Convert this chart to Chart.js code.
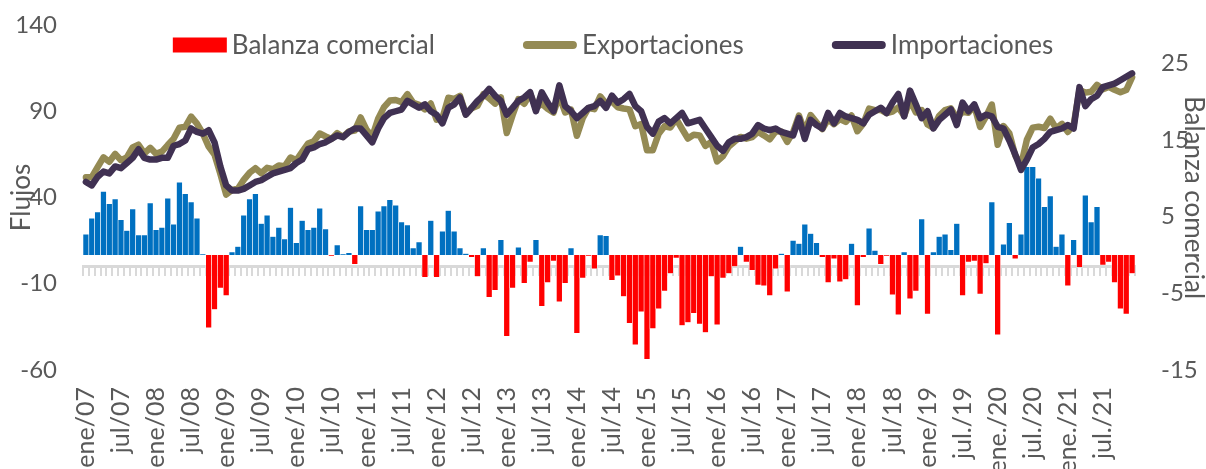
<!DOCTYPE html>
<html lang="es">
<head>
  <meta charset="UTF-8">
  <title>Balanza comercial, exportaciones e importaciones</title>
  <script src="https://cdn.jsdelivr.net/npm/chart.js@4.4.1/dist/chart.umd.min.js"></script>
  <style>
    html, body { margin: 0; padding: 0; background: #fff; overflow: hidden; }
    .chart-container { position: relative; width: 1206px; height: 469px; }
  </style>
</head>
<body>
  <div class="chart-container">
    <canvas id="balanzaChart"></canvas>
  </div>

  <script>
    // Categories: monthly, ene/07 .. dic/21
    const meses = ['ene', 'feb', 'mar', 'abr', 'may', 'jun', 'jul', 'ago', 'sep', 'oct', 'nov', 'dic'];
    const anios = [7, 8, 9, 10, 11, 12, 13, 14, 15, 16, 17, 18, 19, 20, 21];
    const labels = [];
    anios.forEach(a => meses.forEach((m, i) => {
      const yy = String(a).padStart(2, '0');
      const punto = (a > 19 || (a === 19 && i >= 6)) ? '.' : '';
      labels.push(m + punto + '/' + yy);
    }));

    // Balanza comercial (right axis), one row per year
    const balanza = [
      2.7, 4.8, 5.6, 8.3, 6.7, 7.3, 4.6, 3.2, 6.0, 2.6, 2.6, 6.8,
      3.3, 3.6, 7.4, 4.0, 9.5, 8.0, 6.9, 4.8, 0.1, -9.5, -7.1, -4.3,
      -5.3, 0.4, 1.1, 5.2, 7.3, 8.0, 4.1, 5.2, 2.4, 3.6, 2.1, 6.2,
      1.6, 4.5, 3.3, 3.6, 6.1, 3.4, -0.1, 1.3, 0.1, 0.3, -1.2, 6.4,
      3.3, 3.3, 5.7, 6.4, 7.2, 6.5, 4.3, 3.9, 0.9, 1.7, -2.9, 4.5,
      -2.9, 3.1, 5.8, 3.1, 0.9, 0.2, -0.3, -2.8, 0.9, -5.5, -4.6, 2.0,
      -10.6, -4.3, 1.0, -3.7, -0.9, 2.0, -6.7, -3.6, -0.8, -6.1, -3.7, 0.9,
      -10.2, -3.0, -0.1, -1.8, 2.6, 2.5, -3.3, -2.7, -5.4, -8.9, -11.7, -7.4,
      -13.6, -9.6, -7.0, -4.7, -2.4, -0.4, -9.2, -8.8, -7.6, -9.0, -10.1, -2.8,
      -9.1, -3.0, -2.4, -1.5, 1.1, -0.9, -2.0, -3.9, -4.0, -5.3, -1.8, 0.2,
      -4.8, 1.9, 1.5, 4.0, 2.8, 1.6, -0.3, -3.6, -0.5, -3.5, -3.2, 1.5,
      -6.6, -0.3, 3.5, 0.6, -1.2, -0.1, -5.2, -7.8, 0.4, -5.7, -4.7, 4.7,
      -7.7, 0.4, 2.4, 2.7, 0.7, 4.1, -5.3, -0.9, -0.8, -5.1, -1.1, 6.9,
      -10.4, 1.4, 4.2, -0.5, 2.7, 11.5, 11.5, 10.0, 6.3, 7.7, 1.1, 2.7,
      -4.0, 2.0, -1.6, 7.8, 4.3, 6.3, -1.3, -0.9, -3.6, -7.0, -7.7, -2.4
    ];

    // Flujos (left axis)
    const exportaciones = [
      51.7, 51.8, 57.6, 63.3, 60.7, 65.3, 61.6, 63.2, 69.0, 70.6, 65.6, 68.8,
      65.3, 66.6, 70.4, 74.0, 80.5, 81.0, 86.9, 82.8, 77.1, 69.5, 64.9, 53.7,
      41.7, 44.4, 45.1, 50.2, 54.3, 57.0, 54.1, 57.2, 56.4, 58.6, 58.1, 63.2,
      61.6, 66.5, 71.3, 72.6, 77.1, 75.4, 73.9, 77.3, 75.1, 78.3, 78.8, 86.4,
      79.3, 75.3, 85.7, 92.4, 96.2, 96.5, 95.3, 99.9, 94.9, 93.7, 91.1, 94.5,
      85.1, 86.1, 97.8, 97.1, 98.9, 88.2, 91.7, 93.2, 99.9, 97.5, 94.4, 98.0,
      77.4, 87.7, 97.0, 94.3, 100.1, 92.0, 94.3, 91.4, 89.2, 98.9, 89.3, 90.9,
      75.8, 86.0, 91.9, 91.2, 98.6, 94.5, 95.7, 92.3, 91.6, 91.1, 81.3, 82.6,
      67.4, 67.4, 77.0, 81.3, 80.6, 85.6, 79.8, 74.2, 76.4, 76.0, 69.9, 72.2,
      60.9, 64.0, 69.6, 72.5, 75.1, 74.1, 75.0, 78.1, 76.0, 73.7, 78.2, 78.2,
      72.2, 77.9, 87.5, 78.0, 87.8, 83.6, 79.7, 85.4, 82.5, 85.5, 83.8, 87.5,
      78.4, 82.7, 91.5, 90.6, 90.8, 88.9, 89.8, 92.2, 87.4, 96.3, 89.3, 90.7,
      82.3, 80.4, 87.4, 90.7, 91.7, 86.1, 89.7, 89.1, 93.2, 80.9, 86.9, 93.9,
      70.6, 81.4, 77.2, 64.5, 58.7, 73.5, 80.5, 81.0, 80.3, 85.7, 80.1, 82.7,
      78.0, 82.0, 102.4, 100.8, 101.3, 105.3, 102.7, 104.1, 102.4, 101.0, 102.3, 109.6
    ];
    const importaciones = [
      49, 47, 52, 55, 54, 58, 57, 60, 63, 68, 63, 62,
      62, 63, 63, 70, 71, 73, 80, 78, 77, 79, 72, 58,
      47, 44, 44, 45, 47, 49, 50, 52, 54, 55, 56, 57,
      60, 62, 68, 69, 71, 72, 74, 76, 75, 78, 80, 80,
      76, 72, 80, 86, 89, 90, 91, 96, 94, 92, 94, 90,
      88, 83, 92, 94, 98, 88, 92, 96, 99, 103, 99, 96,
      88, 92, 96, 98, 101, 90, 101, 95, 90, 105, 93, 90,
      86, 89, 92, 93, 96, 92, 99, 95, 97, 100, 93, 90,
      81, 77, 84, 86, 83, 86, 89, 83, 84, 85, 80, 75,
      70, 67, 72, 74, 74, 75, 77, 82, 80, 79, 80, 78,
      77, 76, 86, 74, 85, 82, 80, 89, 83, 89, 87, 86,
      85, 83, 88, 90, 92, 89, 95, 100, 87, 102, 94, 86,
      90, 80, 85, 88, 91, 82, 95, 90, 94, 86, 88, 87,
      81, 80, 73, 65, 56, 62, 69, 71, 74, 78, 79, 80,
      82, 80, 104, 93, 97, 99, 104, 105, 106, 108, 110, 112
    ];

    // Axis ticks
    const flujosTicks = [-60, -10, 40, 90, 140];
    const balanzaTicks = [-15, -5, 5, 15, 25];

    const posColor = '#0070C0';
    const negColor = '#FF0000';
    const expColor = '#948A54';
    const impColor = '#403152';
    const textColor = '#595959';
    const axisGray = 'rgba(191, 191, 191, 0.6)';

    Chart.defaults.font.family = 'Lato';
    Chart.defaults.color = textColor;

    // Legend drawn across the top of the plot, as in the original
    const topLegend = {
      id: 'topLegend',
      afterDraw(chart, args, opts) {
        const ctx = chart.ctx;
        ctx.save();
        ctx.font = opts.fontSize + 'px Lato';
        ctx.textBaseline = 'middle';
        const items = chart.data.datasets.map(ds => ({
          ds,
          width: opts.swatch + opts.textGap + ctx.measureText(ds.label).width
        }));
        const total = items.reduce((s, it) => s + it.width, 0) + opts.gap * (items.length - 1);
        let x = opts.centerX - total / 2;
        const y = opts.y;
        items.forEach(it => {
          if (it.ds.type === 'bar') {
            ctx.fillStyle = negColor;
            ctx.fillRect(x, y - opts.boxHeight / 2, opts.swatch, opts.boxHeight);
          } else {
            const r = opts.lineWidth / 2;
            ctx.strokeStyle = it.ds.borderColor;
            ctx.lineWidth = opts.lineWidth;
            ctx.lineCap = 'round';
            ctx.beginPath();
            ctx.moveTo(x + r, y);
            ctx.lineTo(x + opts.swatch - r, y);
            ctx.stroke();
          }
          ctx.fillStyle = textColor;
          ctx.fillText(it.ds.label, x + opts.swatch + opts.textGap, y + 1);
          x += it.width + opts.gap;
        });
        ctx.restore();
      }
    };

    // invisible tick marks keep the labels away from the plot without padding the top
    const hiddenTickGrid = { display: true, drawOnChartArea: false, drawTicks: true, tickLength: 23, color: 'transparent' };

    const ctx = document.getElementById('balanzaChart').getContext('2d');
    new Chart(ctx, {
      type: 'bar',
      data: {
        labels: labels,
        datasets: [
          {
            type: 'bar',
            label: 'Balanza comercial',
            data: balanza,
            yAxisID: 'y2',
            backgroundColor: balanza.map(v => v < 0 ? negColor : posColor),
            borderColor: 'rgba(255, 255, 255, 0.7)',
            borderWidth: 0.6,
            barPercentage: 1,
            categoryPercentage: 1,
            order: 3
          },
          {
            type: 'line',
            label: 'Exportaciones',
            data: exportaciones,
            yAxisID: 'y',
            borderColor: expColor,
            backgroundColor: expColor,
            borderWidth: 6.5,
            borderJoinStyle: 'round',
            borderCapStyle: 'round',
            pointRadius: 0,
            tension: 0,
            order: 2
          },
          {
            type: 'line',
            label: 'Importaciones',
            data: importaciones,
            yAxisID: 'y',
            borderColor: impColor,
            backgroundColor: impColor,
            borderWidth: 6.5,
            borderJoinStyle: 'round',
            borderCapStyle: 'round',
            pointRadius: 0,
            tension: 0,
            order: 1
          }
        ]
      },
      options: {
        responsive: true,
        maintainAspectRatio: false,
        animation: false,
        layout: { padding: { top: 25, left: 0, right: 0, bottom: 0 } },
        plugins: {
          legend: { display: false },
          tooltip: { enabled: false },
          topLegend: {
            fontSize: 26,
            swatch: 54,
            textGap: 5,
            gap: 88,
            boxHeight: 15,
            lineWidth: 8,
            centerX: 613,
            y: 45
          }
        },
        scales: {
          x: {
            type: 'category',
            position: 'bottom',
            offset: true,
            grid: { display: false, drawTicks: false },
            border: { display: false },
            ticks: {
              autoSkip: false,
              minRotation: 90,
              maxRotation: 90,
              padding: 17,
              color: textColor,
              font: { size: 25 },
              callback: (v, i) => (i % 6 === 0 ? labels[i] : '')
            },
            afterFit(scale) { scale.height = 99; }
          },
          xAxis0: {
            type: 'category',
            axis: 'x',
            position: { y: 0 },
            offset: true,
            z: 1,
            grid: {
              display: true,
              offset: true,
              drawOnChartArea: false,
              drawTicks: true,
              tickLength: 8,
              lineWidth: 2,
              color: axisGray
            },
            border: { display: true, color: axisGray, width: 3 },
            ticks: { display: false }
          },
          y: {
            position: 'left',
            min: -60,
            max: 140,
            grid: hiddenTickGrid,
            border: { display: false },
            ticks: { padding: 3, color: textColor, font: { size: 24 } },
            afterBuildTicks(scale) { scale.ticks = flujosTicks.map(v => ({ value: v })); },
            title: {
              display: true,
              text: 'Flujos',
              color: textColor,
              font: { size: 26, lineHeight: 1 },
              padding: { top: 9, bottom: 0 }
            },
            afterFit(scale) { scale.width = 83; }
          },
          y2: {
            position: 'right',
            min: -15,
            max: 30,
            grid: hiddenTickGrid,
            border: { display: false },
            ticks: { padding: 3, color: textColor, font: { size: 24 } },
            afterBuildTicks(scale) { scale.ticks = balanzaTicks.map(v => ({ value: v })); },
            title: {
              display: true,
              text: 'Balanza comercial',
              color: textColor,
              font: { size: 26, lineHeight: 1 },
              padding: { top: 0, bottom: 0 }
            },
            afterFit(scale) { scale.width = 71; }
          }
        }
      },
      plugins: [topLegend]
    });
  </script>
</body>
</html>
